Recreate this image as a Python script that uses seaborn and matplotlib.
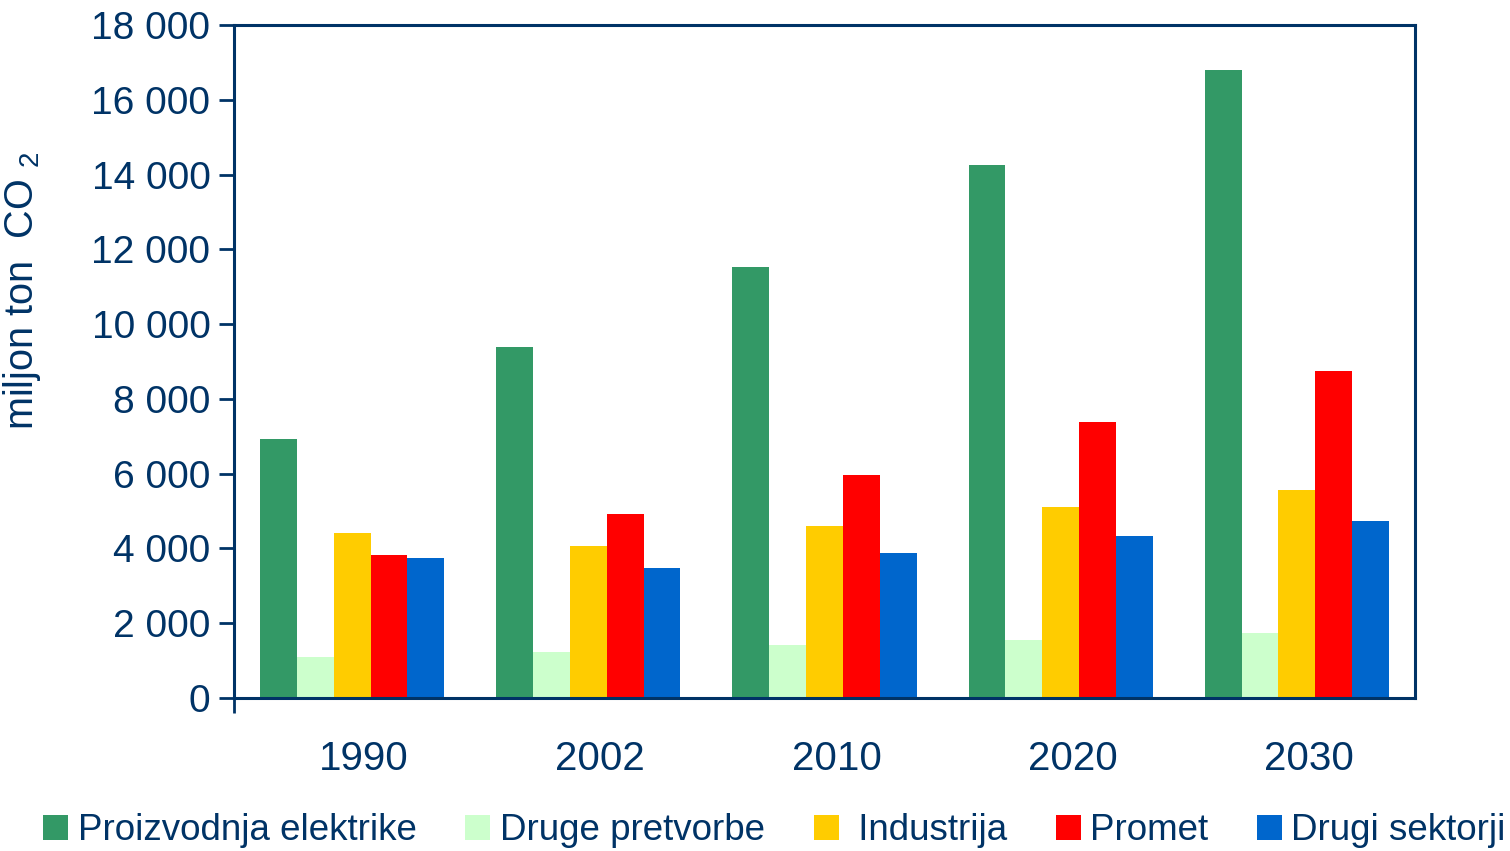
import matplotlib
matplotlib.use("Agg")
import matplotlib.pyplot as plt
import matplotlib.transforms as mtransforms
import seaborn as sns
import pandas as pd
from matplotlib.ticker import FuncFormatter
from matplotlib.patches import Patch

years = ["1990", "2002", "2010", "2020", "2030"]
sectors = ["Proizvodnja elektrike", "Druge pretvorbe", "Industrija", "Promet", "Drugi sektorji"]
proizvodnja = [6920, 9400, 11530, 14260, 16800]
druge = [1100, 1230, 1420, 1550, 1740]
industrija = [4410, 4070, 4600, 5110, 5560]
promet = [3820, 4920, 5960, 7380, 8750]
drugi = [3750, 3480, 3880, 4330, 4730]
colors = ["#339966", "#CCFFCC", "#FFCC00", "#FF0000", "#0066CC"]
yticks = [0, 2000, 4000, 6000, 8000, 10000, 12000, 14000, 16000, 18000]

navy = "#003366"
sns.set_theme(style="white")
plt.rcParams['font.family'] = ['Liberation Sans', 'DejaVu Sans']
plt.rcParams['mathtext.fontset'] = 'custom'
plt.rcParams['mathtext.rm'] = 'Liberation Sans'

rows = []
for s, vals in zip(sectors, [proizvodnja, druge, industrija, promet, drugi]):
    for y, v in zip(years, vals):
        rows.append({"year": y, "sector": s, "value": v})
df = pd.DataFrame(rows)

fig = plt.figure(figsize=(15.1, 8.51), dpi=100)
ax = fig.add_axes([234/1510, 1-698/851, (1415-234)/1510, (698-25)/851])
sns.barplot(data=df, x="year", y="value", hue="sector", hue_order=sectors,
            order=years, palette=colors, width=0.78, saturation=1,
            edgecolor="none", linewidth=0, legend=False, ax=ax)
ax.set_xlim(-0.5, 4.5)
ax.set_ylim(0, 18000)
ax.set_yticks(yticks)
ax.yaxis.set_major_formatter(FuncFormatter(lambda v, p: f"{int(v):,}".replace(",", " ")))
ax.set_xlabel("")
ax.set_ylabel("miljon ton  CO $_\\mathregular{2}$", fontsize=28.5, color=navy)
ax.yaxis.set_label_coords(-0.162, 0.605)
for sp in ax.spines.values():
    sp.set_visible(True)
    sp.set_color(navy)
    sp.set_linewidth(2.2)
ax.tick_params(axis="y", which="major", direction="out", length=11, width=2, color=navy,
               labelsize=28, labelcolor=navy, pad=6, left=True)
ax.tick_params(axis="x", which="major", length=0, labelsize=29, labelcolor=navy, pad=30)
shift = mtransforms.ScaledTranslation(12/100, 0, fig.dpi_scale_trans)
for lbl in ax.get_xticklabels():
    lbl.set_transform(lbl.get_transform() + shift)
ax.set_xticks([-0.5], minor=True)
ax.tick_params(axis="x", which="minor", direction="out", length=11, width=2, color=navy, bottom=True)

handles = [Patch(facecolor=c, edgecolor="none") for c in colors]
labels = ["Proizvodnja elektrike", "Druge pretvorbe", " Industrija", "Promet", "Drugi sektorji"]
fig.legend(handles, labels, loc="lower center", bbox_to_anchor=(0.513, -0.014), ncol=5,
           frameon=False, fontsize=26.5, labelcolor=navy, handlelength=0.68, handleheight=0.68,
           handletextpad=0.25, columnspacing=1.33, borderaxespad=0)

fig.savefig("out.png", dpi=100)
